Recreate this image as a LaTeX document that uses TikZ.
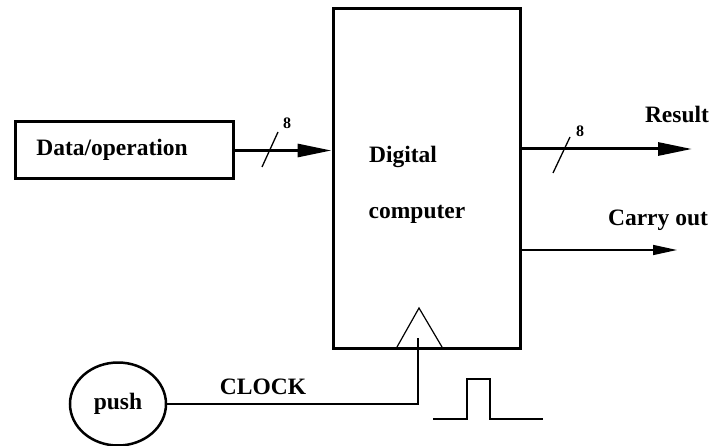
\documentclass[tikz,border=0pt]{standalone}
\usepackage{fontspec}
\setmainfont{Liberation Serif}
\usetikzlibrary{arrows.meta,shapes.geometric}
\begin{document}
\begin{tikzpicture}[x=1pt,y=-1pt,
  lbl/.style={font=\fontsize{23.5}{26}\selectfont\bfseries, inner sep=0pt},
  small/.style={font=\fontsize{16}{18}\selectfont\bfseries, inner sep=0pt},
  box/.style={draw, line width=3pt, inner sep=0pt},
  bus/.style={line width=3pt, -{Triangle[length=34pt,width=13pt]}},
  slash/.style={line width=1.3pt},
]
\useasboundingbox (0,0) rectangle (714,446);
\node[box, minimum width=187pt, minimum height=339pt] (comp) at (426.5,178.5) {};
\node[box, minimum width=218pt, minimum height=57pt] (data) at (124,150.5) {};
\node[lbl] (datat) at (112,150) {Data/operation};
\node[lbl] (dig) at (403,157) {Digital};
\node[lbl] (cmp) at (417,214) {computer};
\node[lbl] (res) at (677,114) {Result};
\node[lbl] (carry) at (658,220) {Carry out};
\node[draw, line width=2.5pt, ellipse, minimum width=96pt, minimum height=83pt, inner sep=0pt] (push) at (118,404) {};
\node[lbl] (pusht) at (118,404) {push};
\node[lbl] (clk) at (263,387) {CLOCK};
% bus arrows
\coordinate (resend) at (692,149);
\coordinate (carryend) at (677,250);
\draw[bus] (data.east) -- (comp.west |- data.east);
\draw[bus] (comp.east |- resend) -- (resend);
\draw[line width=1.5pt, -{Triangle[length=24pt,width=10pt]}] (comp.east |- carryend) -- (carryend);
% slashes
\coordinate (s1a) at (262,167); \coordinate (s1b) at (278,132);
\coordinate (s2a) at (553,173); \coordinate (s2b) at (570,137);
\draw[slash] (s1a) -- (s1b);
\draw[slash] (s2a) -- (s2b);
\node[small] (n1) at (287,123) {8};
\node[small] (n2) at (580,131) {8};
% clock triangle
\coordinate (ta) at (397,347); \coordinate (tb) at (419,308); \coordinate (tc) at (442,347);
\draw[line width=1.2pt] (ta) -- (tb) -- (tc);
\coordinate (clktop) at (418,338);
\draw[line width=1.2pt] (clktop) |- (push.east);
% pulse
\coordinate (p0) at (433,419);
\draw[line width=2.5pt] (p0) -- ++(34,0) -- ++(0,-40) -- ++(23,0) -- ++(0,40) -- ++(53,0);
\end{tikzpicture}
\end{document}
